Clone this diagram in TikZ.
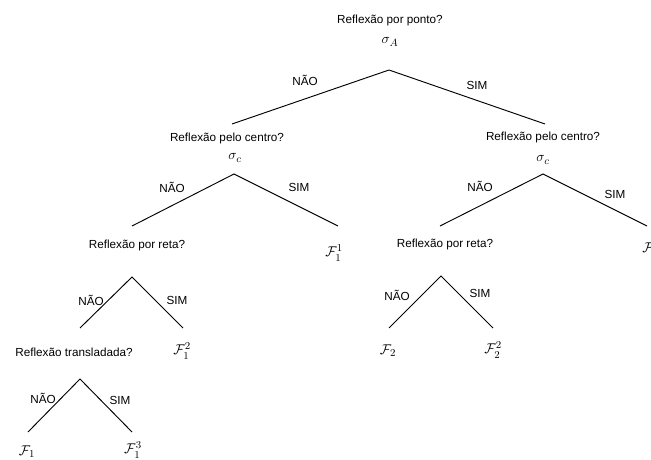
\documentclass[tikz,border=0pt]{standalone}
\usepackage{fontspec}
\setmainfont{Liberation Sans}
\usepackage{amsmath}
\usepackage{amssymb}

\begin{document}
\begin{tikzpicture}[x=0.03cm,y=-0.03cm,
  branch/.style={line width=0.8pt},
  answer/.style={inner sep=1pt},
  symb/.style={inner sep=1pt,font=\fontsize{13}{15}\selectfont}]
\useasboundingbox (0,0) rectangle (651,460);

% root
\node (q0) at (390,20) {Reflexão por ponto?};
\node[symb] (s0) at (390,42) {$\sigma_A$};
\coordinate (t0) at (389,70);
\coordinate (l0) at (232,124);
\coordinate (r0) at (545,124);
\draw[branch] (l0) -- (t0) -- (r0);
\node[answer] (n0) at (305,80) {NÃO};
\node[answer] (y0) at (477,85) {SIM};

% left: reflexao pelo centro
\node (q1) at (227,138) {Reflexão pelo centro?};
\node[symb] (s1) at (235,158) {$\sigma_c$};
\coordinate (t1) at (234,174);
\coordinate (l1) at (132,226);
\coordinate (r1) at (338,226);
\draw[branch] (l1) -- (t1) -- (r1);
\node[answer] (n1) at (172,187) {NÃO};
\node[answer] (y1) at (299,187) {SIM};
\node[symb] (f11) at (334,253) {$\mathcal{F}_1^1$};

% right: reflexao pelo centro
\node (q2) at (543,137) {Reflexão pelo centro?};
\node[symb] (s2) at (543,160) {$\sigma_c$};
\coordinate (t2) at (543,174);
\coordinate (l2) at (440,226);
\coordinate (r2) at (647,226);
\draw[branch] (l2) -- (t2) -- (r2);
\node[answer] (n2) at (480,186) {NÃO};
\node[answer] (y2) at (615,194) {SIM};
\node[symb] (f2) at (648,248) {$\mathcal{F}$};

% left: reflexao por reta
\node (q3) at (137,245) {Reflexão por reta?};
\coordinate (t3) at (132,277);
\coordinate (l3) at (80,328);
\coordinate (r3) at (183,328);
\draw[branch] (l3) -- (t3) -- (r3);
\node[answer] (n3) at (91,300) {NÃO};
\node[answer] (y3) at (177,300) {SIM};
\node[symb] (f12) at (182,351) {$\mathcal{F}_1^2$};

% right: reflexao por reta
\node (q4) at (445,244) {Reflexão por reta?};
\coordinate (t4) at (441,276);
\coordinate (l4) at (389,328);
\coordinate (r4) at (493,328);
\draw[branch] (l4) -- (t4) -- (r4);
\node[answer] (n4) at (397,295) {NÃO};
\node[answer] (y4) at (480,293) {SIM};
\node[symb] (f2a) at (388,351) {$\mathcal{F}_2$};
\node[symb] (f22) at (493,350) {$\mathcal{F}_2^2$};

% reflexao transladada
\node (q5) at (74,352) {Reflexão transladada?};
\coordinate (t5) at (80,379);
\coordinate (l5) at (28,432);
\coordinate (r5) at (132,432);
\draw[branch] (l5) -- (t5) -- (r5);
\node[answer] (n5) at (43,398) {NÃO};
\node[answer] (y5) at (120,400) {SIM};
\node[symb] (f1) at (27,452) {$\mathcal{F}_1$};
\node[symb] (f13) at (133,450) {$\mathcal{F}_1^3$};

\end{tikzpicture}
\end{document}
